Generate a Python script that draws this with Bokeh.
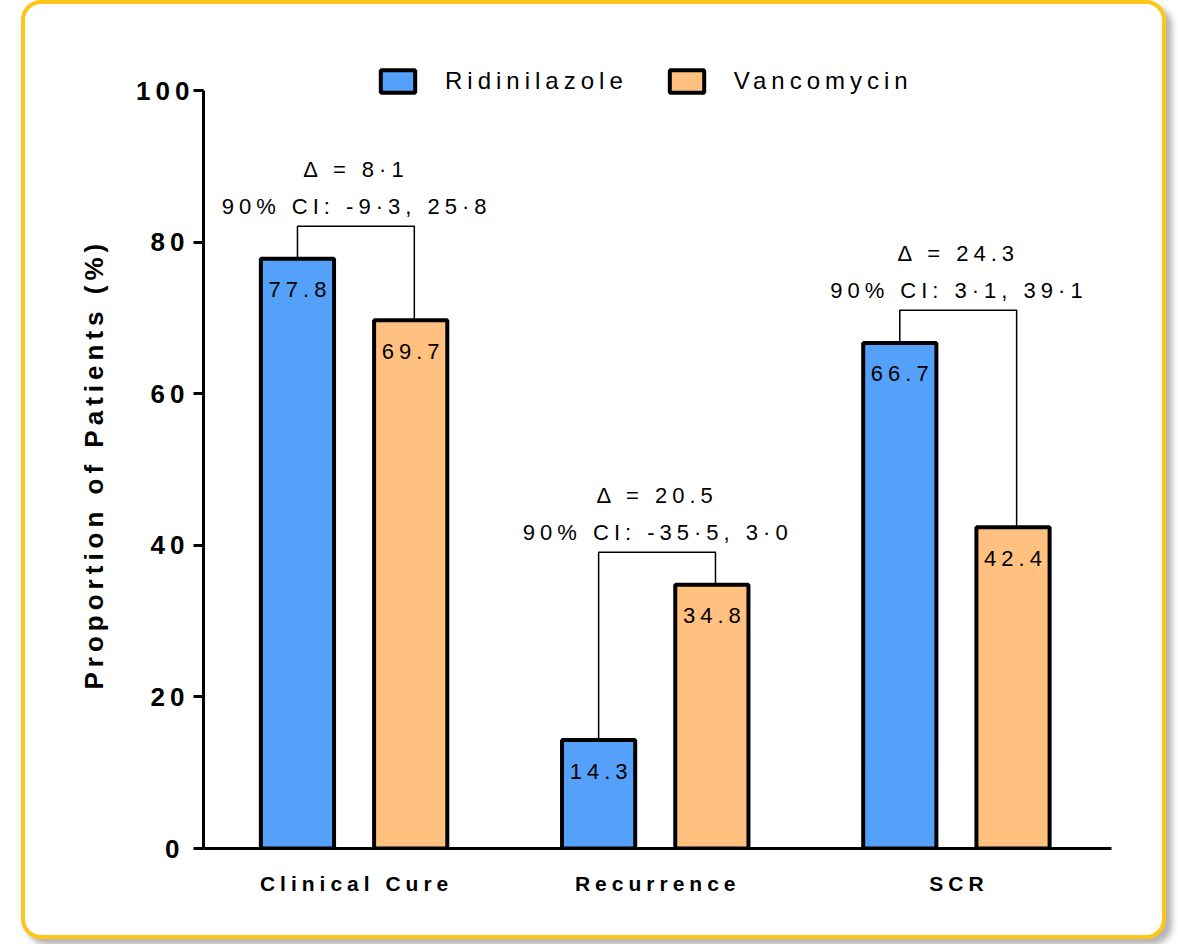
from bokeh.plotting import figure
from bokeh.models import FixedTicker, Legend, LegendItem, Range1d, Title
from bokeh.core.properties import value
from bokeh.embed import file_html
from bokeh.resources import INLINE

# ---- data ----
categories = ["Clinical Cure", "Recurrence", "SCR"]
ridinilazole = [77.8, 14.3, 66.7]
vancomycin = [69.7, 34.8, 42.4]
delta_labels = ["Δ = 8·1", "Δ = 20.5", "Δ = 24.3"]
ci_labels = ["90% CI: -9·3, 25·8", "90% CI: -35·5, 3·0", "90% CI: 3·1, 39·1"]
y_ticks = [0, 20, 40, 60, 80, 100]
y_label = "Proportion of Patients (%)"

FONT = "Liberation Sans"
BLUE = "#55A0F9"
ORANGE = "#FFC080"
LS = 5  # letter spacing (px) applied through CSS

W, H = 1145, 939
MB_L, MB_R, MB_T, MB_B = 178, 59, 33, 95
X0, X1 = 0.5, 3.515
PX_PER_X = (W - MB_L - MB_R) / (X1 - X0)


def center_shift(texts):
    # letter spacing widens start-anchored text to the right; recentre it
    return [-(len(t) - 1) * LS / 2 for t in texts]


groups = [i + 1 for i in range(len(categories))]
off = 0.188
bw = 0.243
x_r = [g - off for g in groups]
x_v = [g + off for g in groups]

p = figure(width=W, height=H, output_backend="svg", toolbar_location=None,
           x_range=Range1d(X0, X1), y_range=Range1d(0, 107),
           min_border_left=MB_L, min_border_right=MB_R, min_border_top=MB_T,
           min_border_bottom=MB_B)
p.styles = {"position": "relative", "left": "21px", "top": "0px",
            "margin-bottom": "-30px",
            "border": "4px solid #FFC61A", "border-radius": "20px",
            "background-color": "white",
            "box-shadow": "6px 6px 6px rgba(0,0,0,0.3)",
            "letter-spacing": f"{LS}px"}
p.outline_line_color = None
p.grid.visible = False
p.background_fill_color = "white"
p.border_fill_alpha = 0

r1 = p.vbar(x=x_r, top=ridinilazole, width=bw, fill_color=BLUE,
            line_color="black", line_width=4)
r2 = p.vbar(x=x_v, top=vancomycin, width=bw, fill_color=ORANGE,
            line_color="black", line_width=4)

# value labels inside bars
for xs_, vals in ((x_r, ridinilazole), (x_v, vancomycin)):
    txt = [f"{v}" for v in vals]
    p.text(x=xs_, y=vals, text=txt, text_font=value(FONT), text_font_size="22px",
           text_align="center", text_baseline="middle", y_offset=31,
           x_offset=center_shift(txt), text_color="black")

# brackets
tops = [max(a, b) + 4.3 for a, b in zip(ridinilazole, vancomycin)]
xs = [[a, a, b + 0.012, b + 0.012] for a, b in zip(x_r, x_v)]
ys = [[a, t, t, b] for a, b, t in zip(ridinilazole, vancomycin, tops)]
p.multi_line(xs=xs, ys=ys, line_color="black", line_width=1.5)

p.text(x=groups, y=tops, text=ci_labels, text_font=value(FONT), text_font_size="22px",
       text_align="center", text_baseline="middle", y_offset=-20,
       x_offset=center_shift(ci_labels), text_color="black")
p.text(x=groups, y=tops, text=delta_labels, text_font=value(FONT), text_font_size="22px",
       text_align="center", text_baseline="middle", y_offset=-57,
       x_offset=center_shift(delta_labels), text_color="black")

# y axis
ya = p.yaxis[0]
ya.bounds = (0, 100)
ya.ticker = FixedTicker(ticks=y_ticks)
ya.axis_line_width = 3
ya.major_tick_line_width = 3
ya.major_tick_out = 10
ya.major_tick_in = 0
ya.minor_tick_line_color = None
ya.major_label_text_font = FONT
ya.major_label_text_font_style = "bold"
ya.major_label_text_font_size = "26px"
ya.major_label_text_color = "black"
ya.major_label_standoff = 14

p.add_layout(Title(text=y_label, align="left", offset=159, standoff=50,
                   text_font=FONT, text_font_style="bold",
                   text_font_size="26px", text_color="black"), "left")

# x axis (tick positions compensate the letter spacing of the labels)
xa = p.xaxis[0]
tick_pos = [g + s / PX_PER_X for g, s in zip(groups, center_shift(categories))]
xa.ticker = FixedTicker(ticks=tick_pos)
xa.major_label_overrides = {t: c for t, c in zip(tick_pos, categories)}
xa.axis_line_width = 3
xa.major_tick_line_color = None
xa.minor_tick_line_color = None
xa.major_label_text_font = FONT
xa.major_label_text_font_style = "bold"
xa.major_label_text_font_size = "21px"
xa.major_label_text_color = "black"
xa.major_label_standoff = 17

legend = Legend(items=[LegendItem(label="Ridinilazole", renderers=[r1]),
                       LegendItem(label="Vancomycin", renderers=[r2])],
                orientation="horizontal", location=(173, 753),
                glyph_width=43, glyph_height=28, label_standoff=26,
                spacing=37, padding=0, margin=0,
                label_text_font=FONT, label_text_font_size="24px",
                label_text_color="black",
                border_line_color=None, background_fill_alpha=0)
p.add_layout(legend)

open("out.html", "w").write(file_html(p, INLINE))
